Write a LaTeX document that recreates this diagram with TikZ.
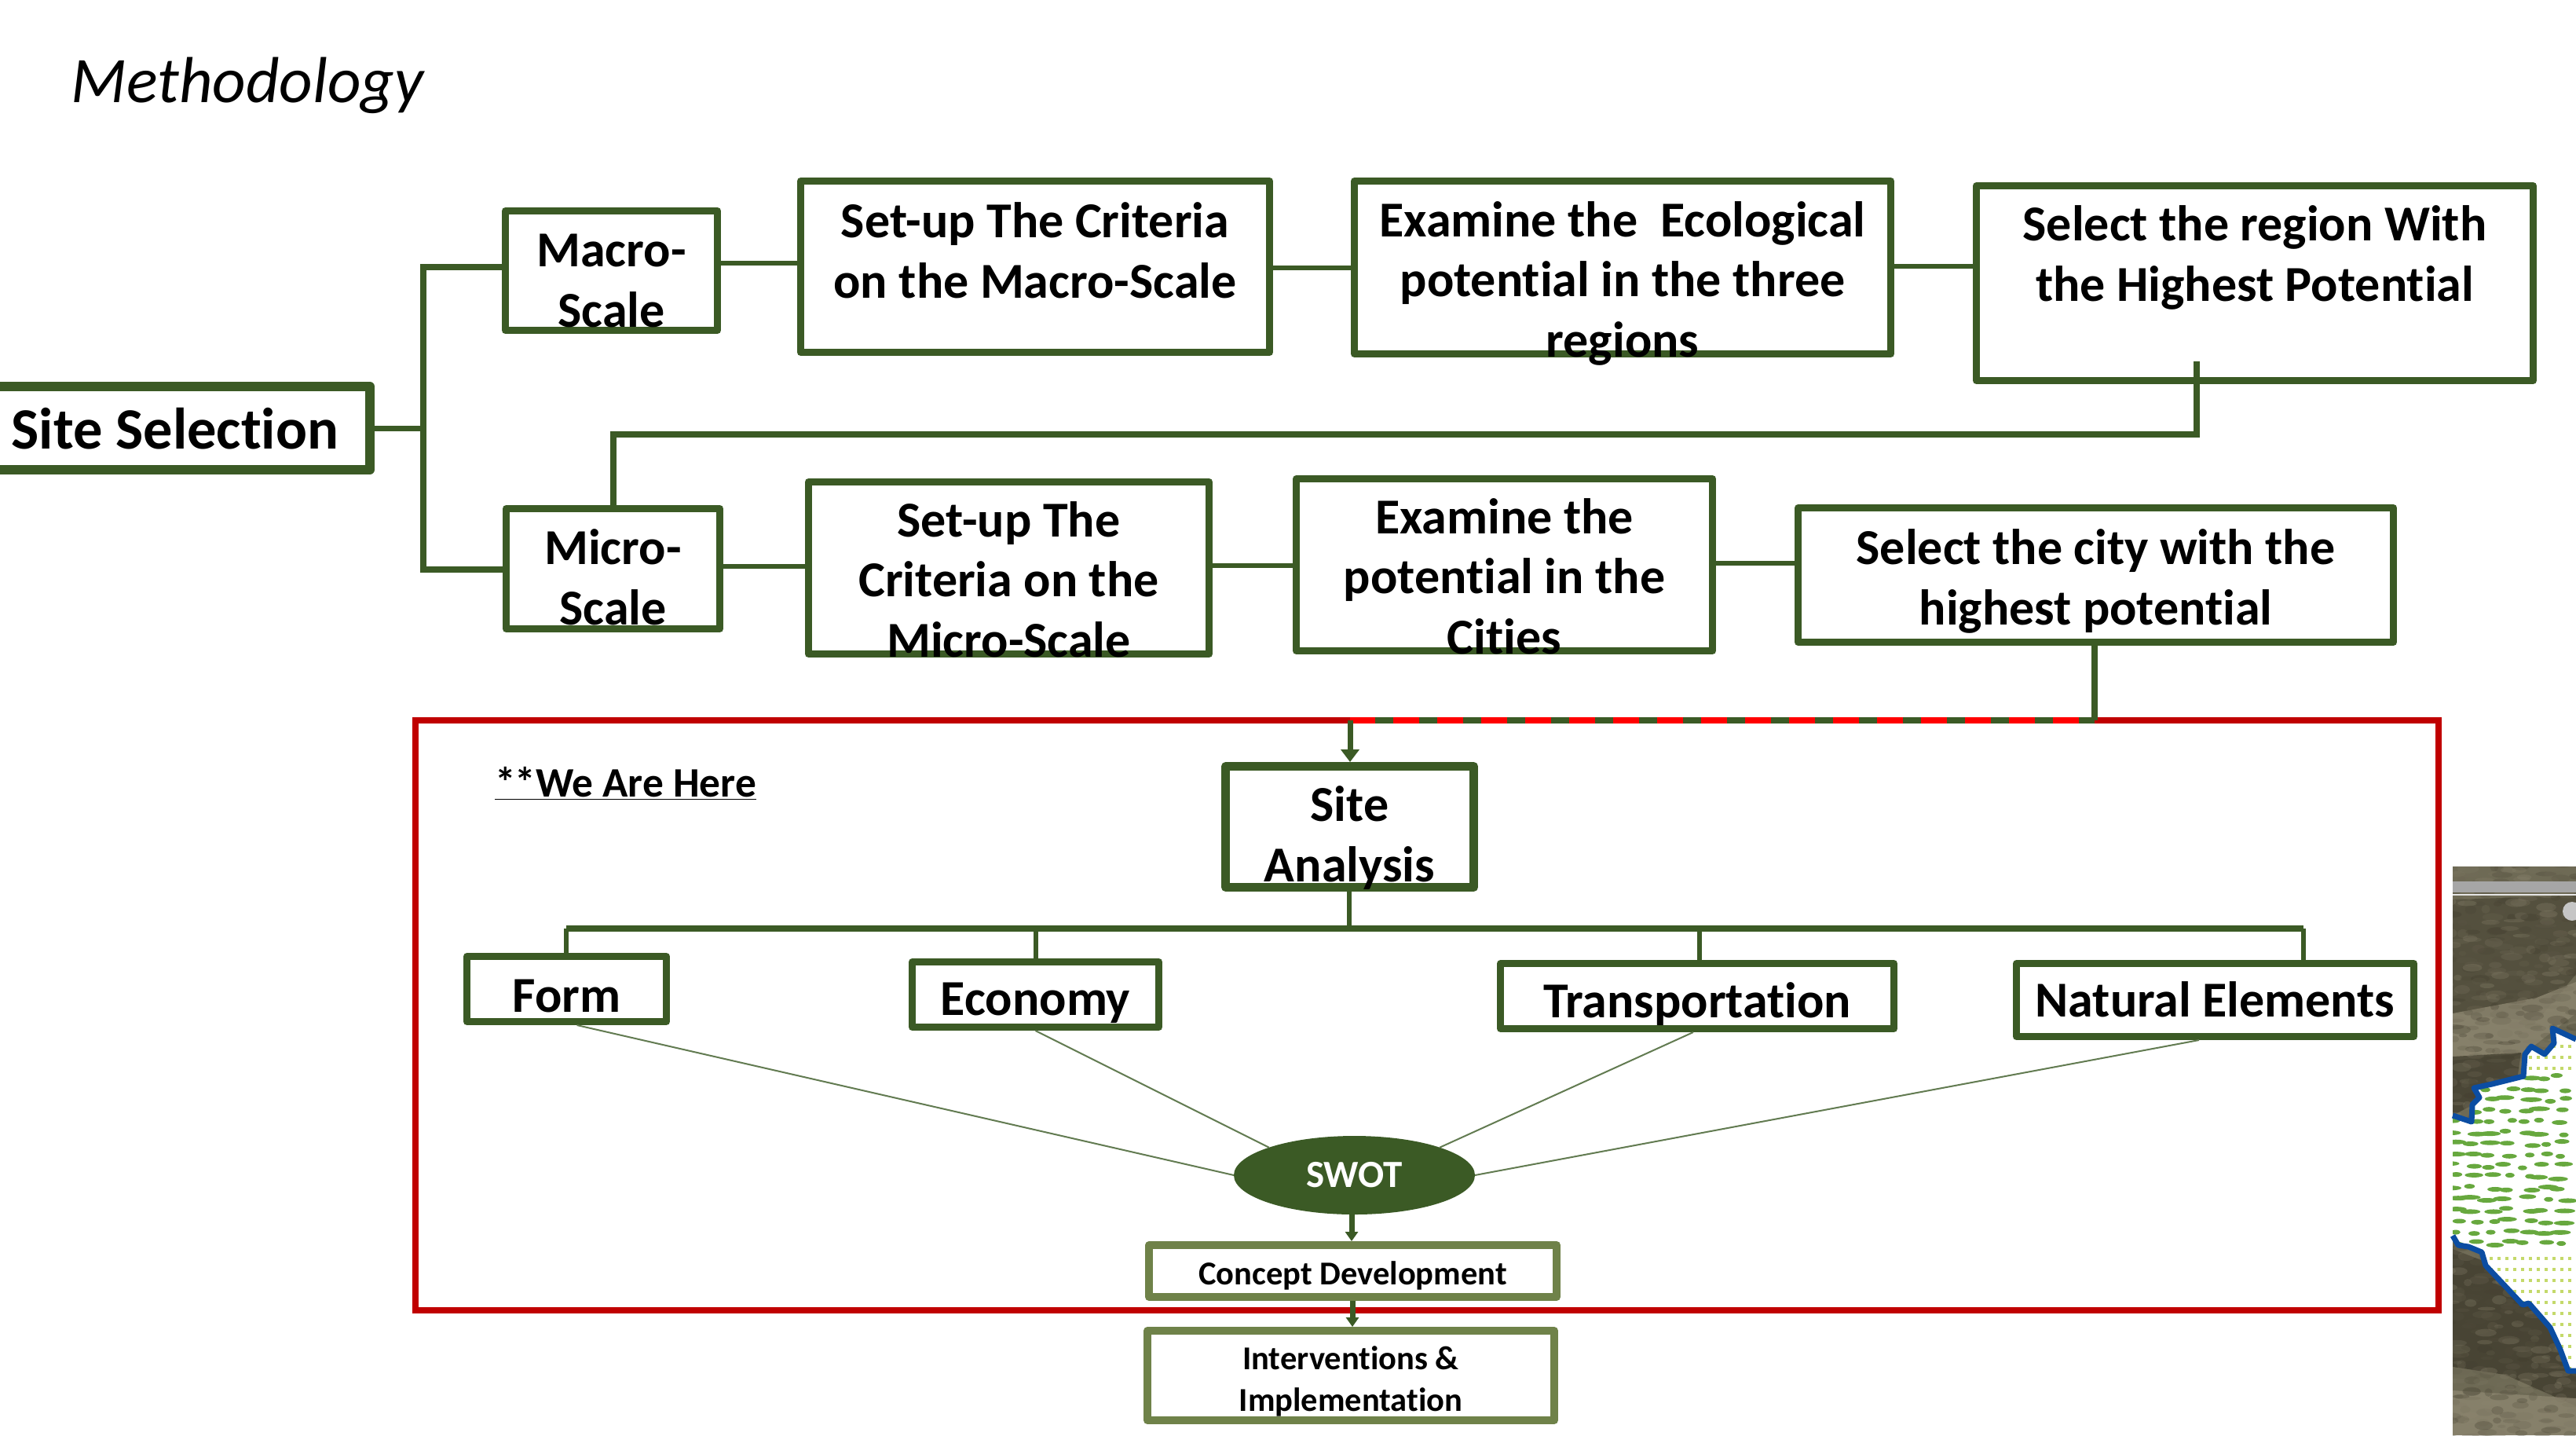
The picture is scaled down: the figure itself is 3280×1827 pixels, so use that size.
\documentclass[tikz,border=0pt]{standalone}
\usepackage{fontspec}
\setmainfont[Ligatures=NoCommon]{Carlito}
\usetikzlibrary{arrows.meta,calc,shapes.geometric}
\definecolor{grn}{HTML}{3B5A25}
\definecolor{olv}{HTML}{6F8249}
\definecolor{redbox}{HTML}{C00000}
\definecolor{satbase}{HTML}{6E6A55}
\definecolor{satdark}{HTML}{3F3B2C}
\definecolor{satmid}{HTML}{8D8670}
\definecolor{satblue}{HTML}{0B4DA2}
\definecolor{satleaf}{HTML}{67A83E}
\definecolor{satdot}{HTML}{C4D96A}
\tikzset{
  frame/.style={draw=grn,fill=white,rectangle,line join=round,inner sep=0pt},
  link/.style={draw=grn,line width=4pt,line join=miter},
  thinlink/.style={draw=grn,line width=3pt},
  fine/.style={draw=grn!80,line width=1pt},
  arrowlink/.style={draw=grn,line width=3.5pt,-{Triangle[width=11.5pt,length=8pt]}},
  smallarrow/.style={draw=grn,line width=3.5pt,-{Triangle[width=8pt,length=6pt]}}
}
% name, x0, y0, x1, y1, line px, font px, last baseline px, lines
\newcommand\bx[9]{%
  \pgfmathsetmacro\fsz{#7*0.5}%
  \pgfmathsetmacro\bsk{#7*0.5*1.19}%
  \pgfmathsetmacro\rse{((#3+#5)/2-#8)*0.5}%
  \node[frame,line width={#6*0.5pt},
        minimum width={(#4-#2-#6)*0.5pt},minimum height={(#5-#3-#6)*0.5pt}]
    (#1) at ({(#2+#4)/2},{(#3+#5)/2})
    {\fontsize{\fsz}{\bsk}\selectfont\bfseries\raisebox{\rse pt}[0pt][0pt]{\begin{tabular}[b]{@{}c@{}}#9\end{tabular}}};}
\def\studyarea{(3123,1420) -- (3147,1428) -- (3148,1406) -- (3157,1397) -- (3150,1385) -- (3173,1380)
    -- (3213,1370) -- (3215,1342) -- (3223,1332) -- (3240,1342) -- (3252,1328) -- (3250,1309)
    -- (3280,1323) -- (3280,1745) -- (3270,1745) -- (3260,1718) -- (3247,1690) -- (3220,1659)
    -- (3212,1661) -- (3183,1630) -- (3165,1611) -- (3160,1594) -- (3143,1587) -- (3130,1585)
    -- (3123,1573) -- cycle}
\begin{document}
\begin{tikzpicture}[x=0.5pt,y=-0.5pt]
\useasboundingbox (0,0) rectangle (3280,1827);

% --- satellite photograph at the right edge ---
\begin{scope}
  \clip (3123,1103) rectangle (3280,1827);
  \fill[satbase] (3123,1103) rectangle (3280,1827);
  \fill[satdark,opacity=.55] (3123,1145) -- (3280,1140) -- (3280,1240) -- (3230,1300) -- (3123,1290) -- cycle;
  \fill[satmid,opacity=.8] (3123,1290) -- (3230,1270) -- (3280,1250) -- (3280,1290) -- (3215,1340) -- (3123,1350) -- cycle;
  \fill[satdark,opacity=.75] (3123,1345) -- (3210,1340) -- (3205,1375) -- (3170,1395) -- (3123,1420) -- cycle;
  \fill[satdark,opacity=.8] (3123,1590) -- (3200,1620) -- (3280,1730) -- (3280,1790) -- (3190,1750) -- (3123,1740) -- cycle;
  \fill[satmid,opacity=.8] (3123,1770) -- (3280,1780) -- (3280,1827) -- (3123,1827) -- cycle;
  \pgfmathsetseed{1234}
  \foreach \yy in {1103,1113,...,1827}{
    \foreach \xx in {3123,3139,...,3290}{
      \pgfmathsetmacro\mx{50+50*rand}
      \pgfmathsetmacro\ww{5+9*rnd}
      \pgfmathsetmacro\hh{2+4*rnd}
      \pgfmathsetmacro\ox{\xx+10*rand}
      \pgfmathsetmacro\oy{\yy+6*rand}
      \fill[satdark!\mx!satmid,opacity=.3] (\ox,\oy) ellipse [x radius=\ww, y radius=\hh];
    }
  }
  \fill[gray!70] (3123,1122) rectangle (3280,1136);
  \draw[white!80!gray,line width=1pt] (3123,1139) -- (3280,1139);
  \fill[gray!45] (3275,1160) circle (12);
  % study area
  \fill[white] \studyarea;
  \clip \studyarea;
  \pgfmathsetseed{4711}
  \foreach \yy in {1372,1386,...,1586}{
    \foreach \xx in {3125,3148,...,3285}{
      \pgfmathsetmacro\ja{rand*8}
      \pgfmathsetmacro\jb{rand*3}
      \pgfmathsetmacro\jc{20+8*rand}
      \fill[satleaf] ({\xx+\ja},{\yy+\jb}) ellipse ({\jc*0.5} and 3);
    }
  }
  \foreach \yy in {1330,1344,1358,1600,1614,...,1740}{
    \foreach \xx in {3160,3170,...,3280}{
      \fill[satdot] (\xx,\yy) rectangle ++(4,4);
    }
  }
\end{scope}
\draw[satblue,line width=3.5pt,line join=round]
    (3123,1420) -- (3147,1428) -- (3148,1406) -- (3157,1397) -- (3150,1385) -- (3173,1380)
    -- (3213,1370) -- (3215,1342) -- (3223,1332) -- (3240,1342) -- (3252,1328) -- (3250,1309)
    -- (3280,1323);
\draw[satblue,line width=3.5pt,line join=round]
    (3280,1745) -- (3270,1745) -- (3260,1718) -- (3247,1690) -- (3220,1659)
    -- (3212,1661) -- (3183,1630) -- (3165,1611) -- (3160,1594) -- (3143,1587) -- (3130,1585)
    -- (3123,1573);

% --- title ---
\node[anchor=base west,inner sep=0pt,font=\fontsize{41.4}{48}\selectfont\itshape] (title) at (90,130) {Methodology};

% --- red frame ---
\node[draw=redbox,line width=4pt,rectangle,inner sep=0pt,outer sep=0pt,
      minimum width=1288pt,minimum height=375.5pt] (redframe) at (1817,1292.5) {};

% --- boxes, upper rows ---
\bx{site}{-31}{486}{477}{604}{12}{74.5}{571}{Site Selection}
\bx{macro}{639}{264}{918}{425}{9}{64}{416}{Macro-\\Scale}
\bx{critA}{1015}{226}{1621}{453}{9}{64}{379}{Set-up The Criteria\\on the Macro-Scale}
\bx{examA}{1720}{226}{2412}{455}{9}{64}{454}{Examine the\ \ Ecological\\potential in the three\\regions}
\bx{selA}{2512}{232}{3230}{489}{9}{64}{383}{Select the region With\\the Highest Potential}
\bx{micro}{640}{643}{921}{805}{9}{64}{795}{Micro-\\Scale}
\bx{critB}{1025}{609}{1544}{837}{9}{64}{836}{Set-up The\\Criteria on the\\Micro-Scale}
\bx{examB}{1646}{605}{2185}{833}{9}{64}{832}{Examine the\\potential in the\\Cities}
\bx{selB}{2285}{642}{3052}{822}{9}{64}{795}{Select the city with the\\highest potential}

% --- boxes, lower part ---
\bx{analysis}{1555}{970}{1882}{1135}{11}{64}{1122}{Site\\Analysis}
\bx{form}{590}{1213}{853}{1305}{9}{64}{1288}{Form}
\bx{economy}{1157}{1220}{1480}{1312}{9}{64}{1292}{Economy}
\bx{transport}{1906}{1222}{2416}{1314}{9}{64}{1295}{Transportation}
\bx{natural}{2563}{1222}{3078}{1324}{9}{64}{1294}{Natural Elements}
\begin{scope}[frame/.append style={draw=olv}]
\bx{concept}{1458}{1580}{1987}{1656}{10}{42.5}{1635}{Concept Development}
\bx{interv}{1456}{1689}{1984}{1813}{10}{42.5}{1796}{Interventions \&\\[1pt]Implementation}
\end{scope}
\node[ellipse,fill=grn,text=white,inner sep=0pt,outer sep=0pt,minimum width=153.5pt,minimum height=50pt,
      font=\fontsize{24.5}{28}\selectfont\bfseries] (swot) at (1724.5,1496) {SWOT};
\node[anchor=base west,inner sep=0pt,font=\fontsize{26.7}{32}\selectfont\bfseries] (here) at (630,1014) {\underline{*\kern-0.8pt*We Are Here}};

% --- connectors: top rows ---
\coordinate (spineT) at (539,340);
\coordinate (spineB) at (539,725);
\draw[link,line width=3.5pt] (site.east) -- (site.east -| spineT);
\draw[link] (macro.west |- spineT) -- (spineT) -- (spineB) -- (micro.west |- spineB);
\draw[thinlink] (macro.east |- 0,335) -- (critA.west |- 0,335);
\draw[thinlink] (critA.east |- 0,341) -- (examA.west |- 0,341);
\draw[thinlink] (examA.east |- 0,339) -- (selA.west |- 0,339);
\coordinate (runA) at (2797,460);
\coordinate (runB) at (2797,553);
\coordinate (runC) at (781,553);
\draw[link] (runA) -- (runB) -- (runC) -- (runC |- micro.north);
\draw[thinlink] (micro.east |- 0,721) -- (critB.west |- 0,721);
\draw[thinlink] (critB.east |- 0,720) -- (examB.west |- 0,720);
\draw[thinlink] (examB.east |- 0,717) -- (selB.west |- 0,717);

% --- dashed stretch of the frame ---
\coordinate (dashR) at (2667,917);
\coordinate (dashL) at (1719,917);
\draw[link] (selB.south -| dashR) -- (dashR);
\draw[red,line width=4pt] (dashL) -- (dashR);
\draw[grn,line width=4pt,dash pattern=on 11.5pt off 16.5pt,dash phase=12pt] (dashL) -- (dashR);
\draw[arrowlink] (dashL) -- (analysis.north -| dashL);

% --- connectors: analysis tree ---
\coordinate (busL) at (721,1182);
\coordinate (busR) at (2933,1182);
\draw[link] (busL) -- (busR);
\draw[thinlink] (analysis.south -| 1718,0) -- (1718,1182);
\draw[thinlink] (busL) -- (form.north -| busL);
\draw[thinlink] (economy.north |- busL) -- (economy.north);
\draw[thinlink] (2164,1182) -- (transport.north -| 2164,0);
\draw[thinlink] (busR) -- (natural.north -| busR);

% --- connectors into SWOT ---
\draw[fine] ($(form.south west)!0.55!(form.south east)$) -- (swot.west);
\draw[fine] (economy.south) -- (swot.162);
\draw[fine] ($(transport.south west)!0.49!(transport.south east)$) -- (swot.18);
\draw[fine] ($(natural.south west)!0.46!(natural.south east)$) -- (swot.east);

% --- arrows to the bottom boxes ---
\draw[smallarrow] (swot.south -| 1721,0) -- (concept.north -| 1721,0);
\draw[smallarrow] (concept.south -| 1722,0) -- (interv.north -| 1722,0);
\end{tikzpicture}
\end{document}
